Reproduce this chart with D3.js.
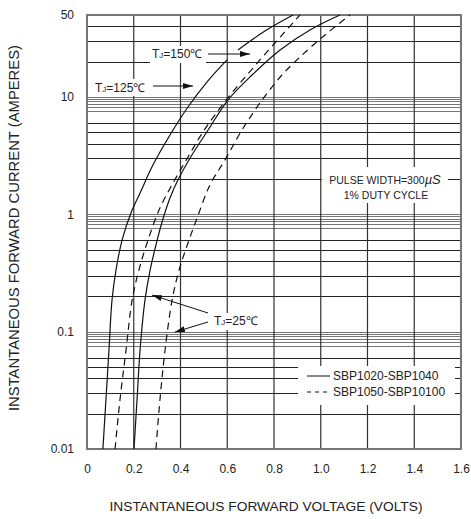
<!DOCTYPE html>
<html>
<head>
<meta charset="utf-8">
<script src="https://cdn.jsdelivr.net/npm/d3@7"></script>
<style>
  body { margin: 0; background: #fff; }
  svg text { font-family: "Liberation Sans", Arial, sans-serif; fill: #222; }
</style>
</head>
<body>
<svg id="chart" width="471" height="519"></svg>
<script>
// forward voltage (V) vs forward current (A)
var tj125Solid = [[0.068,0.01],[0.081,0.0262],[0.094,0.0698],[0.107,0.186],[0.124,0.335],[0.150,0.604],[0.188,1.027],[0.227,1.52],[0.282,2.63],[0.355,4.75],[0.432,8.22],[0.513,13.4],[0.599,20.7]];
var tj125Dash = [[0.120,0.01],[0.141,0.0262],[0.167,0.0698],[0.193,0.186],[0.222,0.335],[0.261,0.604],[0.312,1.132],[0.368,1.85],[0.432,3.08],[0.496,5.03],[0.599,9.62],[0.740,20.7],[0.911,50]];
var tj25Solid = [[0.201,0.01],[0.214,0.0262],[0.227,0.0698],[0.248,0.186],[0.270,0.335],[0.295,0.548],[0.321,0.860],[0.355,1.378],[0.389,1.96],[0.441,3.02],[0.518,5.23],[0.603,9.43],[0.706,15.4],[0.826,25.2],[0.954,37.3],[1.082,50]];
var tj25Dash = [[0.295,0.01],[0.312,0.0262],[0.334,0.0698],[0.364,0.186],[0.394,0.335],[0.432,0.570],[0.471,0.931],[0.526,1.78],[0.590,2.90],[0.663,5.23],[0.749,9.43],[0.834,15.4],[0.911,21.9],[1.018,33.8],[1.125,50]];
var tj150Solid = [[0.646,25.2],[0.761,36.5],[0.881,50]];

var xTicks = [0, 0.2, 0.4, 0.6, 0.8, 1.0, 1.2, 1.4, 1.6];
var yTicks = [0.01, 0.1, 1, 10, 50];
var decades = [0.01, 0.1, 1, 10];
var minorMult = [2, 3, 4, 5, 6, 7.6, 8.2, 8.7, 9.2, 9.6];
var topMinor = [20, 30, 40];

var svg = d3.select("#chart");
var pLeft = 87, pRight = 461, pTop = 15, pBottom = 449;

var x = d3.scaleLinear().domain([0, 1.6]).range([pLeft, pRight]);
var y = d3.scaleLog().domain([0.01, 50]).range([pBottom, pTop]);

// horizontal grid
var hLines = [];
decades.forEach(function (d) {
  hLines.push({v: d, grey: true});
  if (d < 10) {
    minorMult.forEach(function (m) { hLines.push({v: d * m, grey: m > 7}); });
  }
});
topMinor.forEach(function (v) { hLines.push({v: v, grey: false}); });

svg.append("g").selectAll("line").data(hLines).enter().append("line")
  .attr("x1", pLeft).attr("x2", pRight)
  .attr("y1", function (d) { return Math.round(y(d.v)) + 0.5; })
  .attr("y2", function (d) { return Math.round(y(d.v)) + 0.5; })
  .attr("stroke", function (d) { return d.grey ? "#777" : "#222"; })
  .attr("stroke-width", 1);

// vertical grid
svg.append("g").selectAll("line").data(xTicks.slice(1, -1)).enter().append("line")
  .attr("x1", function (d) { return x(d); }).attr("x2", function (d) { return x(d); })
  .attr("y1", pTop).attr("y2", pBottom)
  .attr("stroke", "#333").attr("stroke-width", 1.2);

// plot frame
svg.append("rect").attr("x", pLeft).attr("y", pTop)
  .attr("width", pRight - pLeft).attr("height", pBottom - pTop)
  .attr("fill", "none").attr("stroke", "#777").attr("stroke-width", 2);

// boxes that blank the grid behind notes
var blanks = [[322, 167, 126, 36], [298, 366, 157, 39], [93, 79, 58, 17], [150, 46, 56, 17], [212, 313, 48, 17]];
svg.append("g").selectAll("rect").data(blanks).enter().append("rect")
  .attr("x", function (d) { return d[0]; }).attr("y", function (d) { return d[1]; })
  .attr("width", function (d) { return d[2]; }).attr("height", function (d) { return d[3]; })
  .attr("fill", "#fff");

// curves
var line = d3.line()
  .x(function (d) { return x(d[0]); })
  .y(function (d) { return y(d[1]); })
  .curve(d3.curveCatmullRom);

var curves = [
  {pts: tj125Solid, dash: null},
  {pts: tj125Dash, dash: "7,5"},
  {pts: tj25Solid, dash: null},
  {pts: tj25Dash, dash: "7,5"},
  {pts: tj150Solid, dash: null}
];
svg.append("g").selectAll("path").data(curves).enter().append("path")
  .attr("d", function (d) { return line(d.pts); })
  .attr("fill", "none").attr("stroke", "#111").attr("stroke-width", 1.2)
  .attr("stroke-dasharray", function (d) { return d.dash; });

// axes labels
var xAxis = d3.axisBottom(x).tickValues(xTicks).tickSize(0)
  .tickFormat(function (d) { return d === 0 ? "0" : d3.format(".1f")(d); });
var gx = svg.append("g").attr("transform", "translate(0," + (pBottom + 12) + ")").call(xAxis);
gx.select(".domain").remove();
gx.selectAll("text").attr("font-size", 12).attr("fill", "#222");

var yAxis = d3.axisLeft(y).tickValues(yTicks).tickSize(0)
  .tickFormat(function (d) { return d < 1 ? String(d) : d3.format("d")(d); });
var gy = svg.append("g").attr("transform", "translate(" + (pLeft - 10) + ",0)").call(yAxis);
gy.select(".domain").remove();
gy.selectAll("text").attr("font-size", 12).attr("fill", "#222");

svg.append("text").attr("x", 266).attr("y", 511).attr("text-anchor", "middle")
  .attr("font-size", 13.5).attr("textLength", 313).attr("lengthAdjust", "spacingAndGlyphs")
  .text("INSTANTANEOUS FORWARD VOLTAGE (VOLTS)");
svg.append("text").attr("transform", "translate(19,228) rotate(-90)").attr("text-anchor", "middle")
  .attr("font-size", 14).attr("textLength", 366).attr("lengthAdjust", "spacingAndGlyphs")
  .text("INSTANTANEOUS FORWARD CURRENT (AMPERES)");

// arrow marker
svg.append("defs").append("marker").attr("id", "arr")
  .attr("viewBox", "0 0 10 6").attr("refX", 10).attr("refY", 3)
  .attr("markerWidth", 10).attr("markerHeight", 6).attr("markerUnits", "userSpaceOnUse")
  .attr("orient", "auto")
  .append("path").attr("d", "M0,0L10,3L0,6Z").attr("fill", "#111");

function tjLabel(tx, ty, temp) {
  var t = svg.append("text").attr("x", tx).attr("y", ty).attr("font-size", 12);
  t.append("tspan").text("T");
  t.append("tspan").attr("font-size", 8).text("J");
  t.append("tspan").text("=" + temp + "\u2103");
}
tjLabel(152, 58, 150);
tjLabel(95, 92, 125);
tjLabel(214, 325, 25);

var arrows = [[208, 54, 250, 54], [153, 86, 193, 86], [208, 313, 152, 295], [208, 322, 175, 332]];
svg.append("g").selectAll("line").data(arrows).enter().append("line")
  .attr("x1", function (d) { return d[0]; }).attr("y1", function (d) { return d[1]; })
  .attr("x2", function (d) { return d[2]; }).attr("y2", function (d) { return d[3]; })
  .attr("stroke", "#111").attr("stroke-width", 1).attr("marker-end", "url(#arr)");

// pulse note
var note = svg.append("text").attr("x", 385).attr("y", 184).attr("text-anchor", "middle").attr("font-size", 10.5);
note.append("tspan").text("PULSE WIDTH=300");
note.append("tspan").attr("font-style", "italic").attr("font-size", 13).text("\u00B5S");
svg.append("text").attr("x", 386).attr("y", 199).attr("text-anchor", "middle").attr("font-size", 10.5)
  .text("1% DUTY CYCLE");

// legend
var legend = [{label: "SBP1020-SBP1040", dash: null}, {label: "SBP1050-SBP10100", dash: "4,4"}];
var lg = svg.append("g").selectAll("g").data(legend).enter().append("g")
  .attr("transform", function (d, i) { return "translate(307," + (376 + i * 16) + ")"; });
lg.append("line").attr("x1", 0).attr("x2", 23).attr("stroke", "#111").attr("stroke-width", 1)
  .attr("stroke-dasharray", function (d) { return d.dash; });
lg.append("text").attr("x", 26).attr("y", 4).attr("font-size", 12).text(function (d) { return d.label; });
</script>
</body>
</html>
